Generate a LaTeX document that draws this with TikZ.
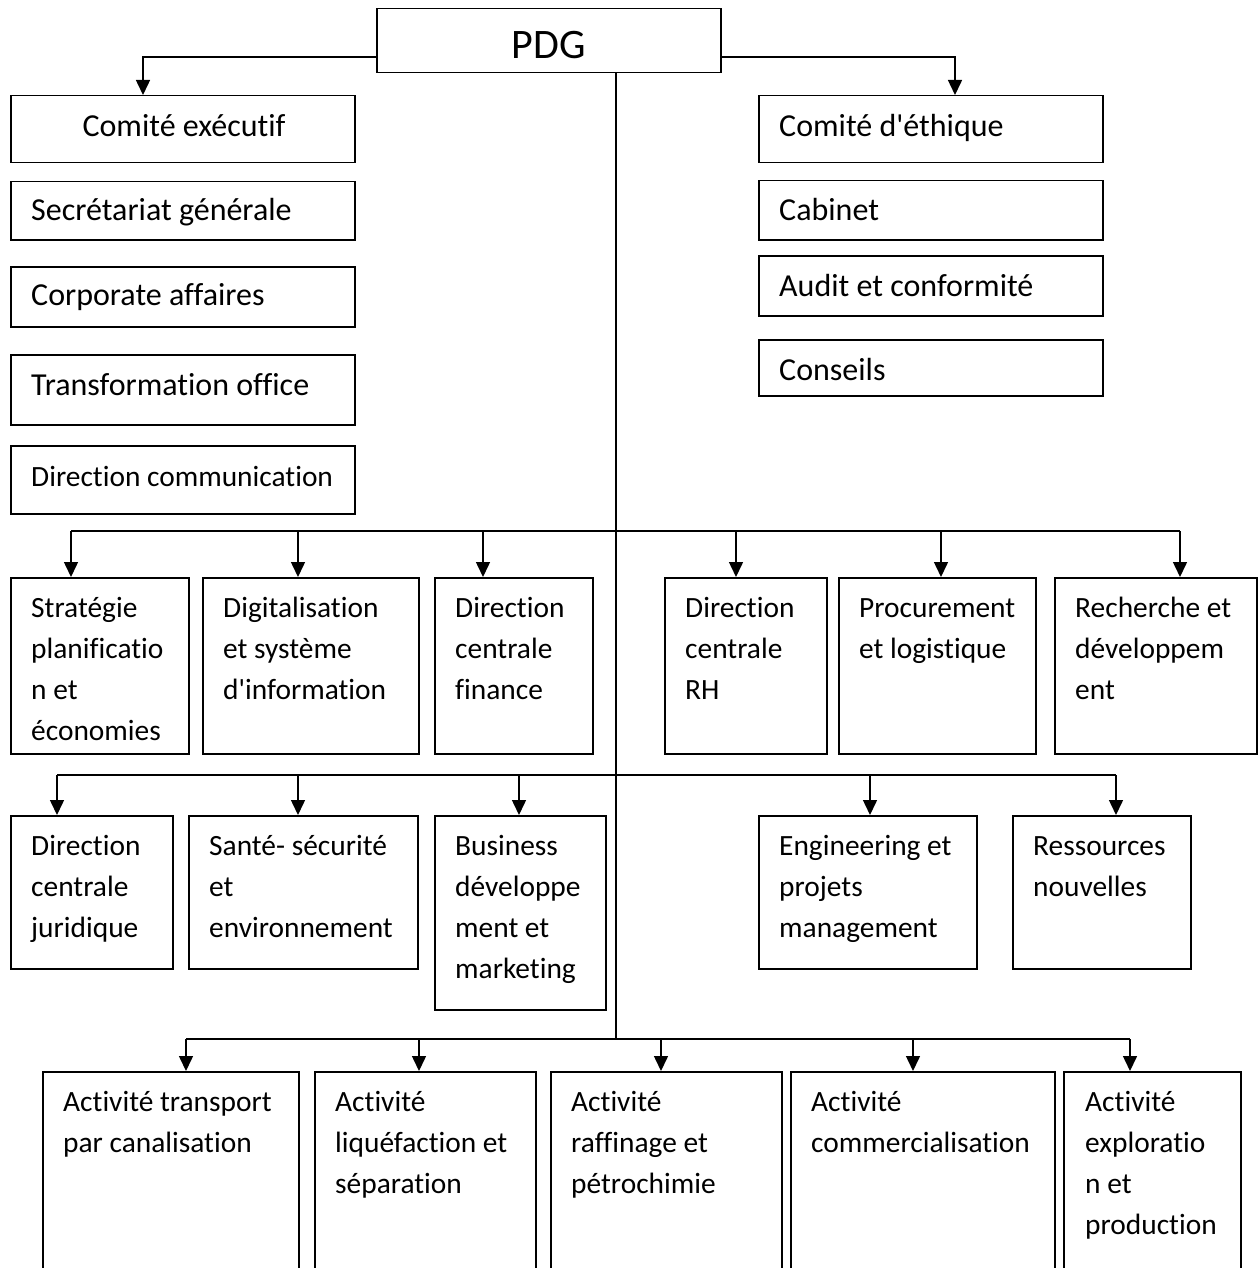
\documentclass[tikz,border=0pt]{standalone}
\usepackage{fontspec}
\setmainfont{Carlito}[Ligatures={TeXOff,NoCommon}]
\usetikzlibrary{arrows.meta}
\begin{document}
\begin{tikzpicture}[x=1pt,y=-1pt,
  box/.style={draw, line width=1.5pt, anchor=north west, inner sep=0pt},
  lbl/.style={anchor=north west, inner sep=0pt, align=left,
    font=\fontsize{29.4}{41}\selectfont},
  biglbl/.style={lbl, font=\fontsize{32}{41}\selectfont},
  line/.style={line width=1.5pt},
  arr/.style={line width=1.5pt, -{Triangle[width=14pt,length=15pt]}}]
\useasboundingbox (0,0) rectangle (1258,1268);
\fill[white] (0,0) rectangle (1258,1268);

% top box
\node[box, minimum width=344pt, minimum height=64pt] (pdg) at (376,8) {};
\node[font=\fontsize{42}{50}\selectfont, inner sep=0pt, yshift=-4pt] (pdgt) at (pdg.center) {PDG};

% left column
\node[box, minimum width=344pt, minimum height=67pt] (ce) at (10,95) {};
\node[box, minimum width=344pt, minimum height=58pt] (sg) at (10,181) {};
\node[box, minimum width=344pt, minimum height=60pt] (ca) at (10,266) {};
\node[box, minimum width=344pt, minimum height=70pt] (to) at (10,354) {};
\node[box, minimum width=344pt, minimum height=68pt] (dc) at (10,445) {};
\node[biglbl, anchor=north] (cet) at (184,108) {\strut Comité exécutif};
\node[biglbl] (sgt) at (31,191.5) {\strut Secrétariat générale};
\node[biglbl] (cat) at (31,276.5) {\strut Corporate affaires};
\node[biglbl] (tot) at (31,366.5) {\strut Transformation office};
\node[lbl] (dct) at (31,458) {\strut Direction communication};

% right column
\node[box, minimum width=344pt, minimum height=67pt] (eth) at (758,95) {};
\node[box, minimum width=344pt, minimum height=59pt] (cab) at (758,180) {};
\node[box, minimum width=344pt, minimum height=60pt] (aud) at (758,255) {};
\node[box, minimum width=344pt, minimum height=56pt] (con) at (758,339) {};
\node[biglbl] (etht) at (779,108) {\strut Comité d'éthique};
\node[biglbl] (cabt) at (779,191.5) {\strut Cabinet};
\node[biglbl] (audt) at (779,267.5) {\strut Audit et conformité};
\node[biglbl] (cont) at (779,351.5) {\strut Conseils};

% second row
\node[box, minimum width=178pt, minimum height=176pt] (str) at (10,577) {};
\node[box, minimum width=216pt, minimum height=176pt] (dig) at (202,577) {};
\node[box, minimum width=158pt, minimum height=176pt] (fin) at (434,577) {};
\node[box, minimum width=162pt, minimum height=176pt] (rh) at (664,577) {};
\node[box, minimum width=197pt, minimum height=176pt] (pro) at (838,577) {};
\node[box, minimum width=202pt, minimum height=176pt] (rd) at (1054,577) {};
\node[lbl] (strt) at (31,589) {\strut Stratégie\\planificatio\\n et\\économies};
\node[lbl] (digt) at (223,589) {\strut Digitalisation\\et système\\d'information};
\node[lbl] (fint) at (455,589) {\strut Direction\\centrale\\finance};
\node[lbl] (rht) at (685,589) {\strut Direction\\centrale\\RH};
\node[lbl] (prot) at (859,589) {\strut Procurement\\et logistique};
\node[lbl] (rdt) at (1075,589) {\strut Recherche et\\développem\\ent};

% third row
\node[box, minimum width=162pt, minimum height=153pt] (jur) at (10,815) {};
\node[box, minimum width=229pt, minimum height=153pt] (san) at (188,815) {};
\node[box, minimum width=171pt, minimum height=194pt] (bus) at (434,815) {};
\node[box, minimum width=218pt, minimum height=153pt] (eng) at (758,815) {};
\node[box, minimum width=178pt, minimum height=153pt] (res) at (1012,815) {};
\node[lbl] (jurt) at (31,827) {\strut Direction\\centrale\\juridique};
\node[lbl] (sant) at (209,827) {\strut Santé- sécurité\\et\\environnement};
\node[lbl] (bust) at (455,827) {\strut Business\\développe\\ment et\\marketing};
\node[lbl] (engt) at (779,827) {\strut Engineering et\\projets\\management};
\node[lbl] (rest) at (1033,827) {\strut Ressources\\nouvelles};

% bottom row (runs past the lower edge)
\node[box, minimum width=256pt, minimum height=230pt] (a1) at (42,1071) {};
\node[box, minimum width=221pt, minimum height=230pt] (a2) at (314,1071) {};
\node[box, minimum width=231pt, minimum height=230pt] (a3) at (550,1071) {};
\node[box, minimum width=264pt, minimum height=230pt] (a4) at (790,1071) {};
\node[box, minimum width=177pt, minimum height=230pt] (a5) at (1063,1071) {};
\node[lbl] (a1t) at (63,1083) {\strut Activité transport\\par canalisation};
\node[lbl] (a2t) at (335,1083) {\strut Activité\\liquéfaction et\\séparation};
\node[lbl] (a3t) at (571,1083) {\strut Activité\\raffinage et\\pétrochimie};
\node[lbl] (a4t) at (811,1083) {\strut Activité\\commercialisation};
\node[lbl] (a5t) at (1085,1083) {\strut Activité\\exploratio\\n et\\production};

% connectors from the top box
\coordinate (tl) at (143,57);
\coordinate (tr) at (955,57);
\draw[arr] (pdg.west |- tl) -- (tl) -- (tl |- ce.north);
\draw[arr] (pdg.east |- tr) -- (tr) -- (tr |- eth.north);

% main trunk and buses
\coordinate (trunk) at (616,1039);
\draw[line] (pdg.south -| trunk) -- (trunk);
\coordinate (b1l) at (71,531);
\coordinate (b1r) at (1180,531);
\coordinate (b2l) at (57,775);
\coordinate (b2r) at (1116,775);
\coordinate (b3l) at (186,1039);
\coordinate (b3r) at (1130,1039);
\draw[line] (b1l) -- (b1r);
\draw[line] (b2l) -- (b2r);
\draw[line] (b3l) -- (b3r);

% drops on the first bus
\coordinate (d11) at (298,531);
\coordinate (d12) at (483,531);
\coordinate (d13) at (736,531);
\coordinate (d14) at (941,531);
\draw[arr] (b1l) -- (b1l |- str.north);
\draw[arr] (d11) -- (d11 |- dig.north);
\draw[arr] (d12) -- (d12 |- fin.north);
\draw[arr] (d13) -- (d13 |- rh.north);
\draw[arr] (d14) -- (d14 |- pro.north);
\draw[arr] (b1r) -- (b1r |- rd.north);

% drops on the second bus
\coordinate (d21) at (298,775);
\coordinate (d22) at (519,775);
\coordinate (d23) at (870,775);
\draw[arr] (b2l) -- (b2l |- jur.north);
\draw[arr] (d21) -- (d21 |- san.north);
\draw[arr] (d22) -- (d22 |- bus.north);
\draw[arr] (d23) -- (d23 |- eng.north);
\draw[arr] (b2r) -- (b2r |- res.north);

% drops on the third bus
\coordinate (d31) at (419,1039);
\coordinate (d32) at (661,1039);
\coordinate (d33) at (913,1039);
\draw[arr] (b3l) -- (b3l |- a1.north);
\draw[arr] (d31) -- (d31 |- a2.north);
\draw[arr] (d32) -- (d32 |- a3.north);
\draw[arr] (d33) -- (d33 |- a4.north);
\draw[arr] (b3r) -- (b3r |- a5.north);
\end{tikzpicture}
\end{document}
